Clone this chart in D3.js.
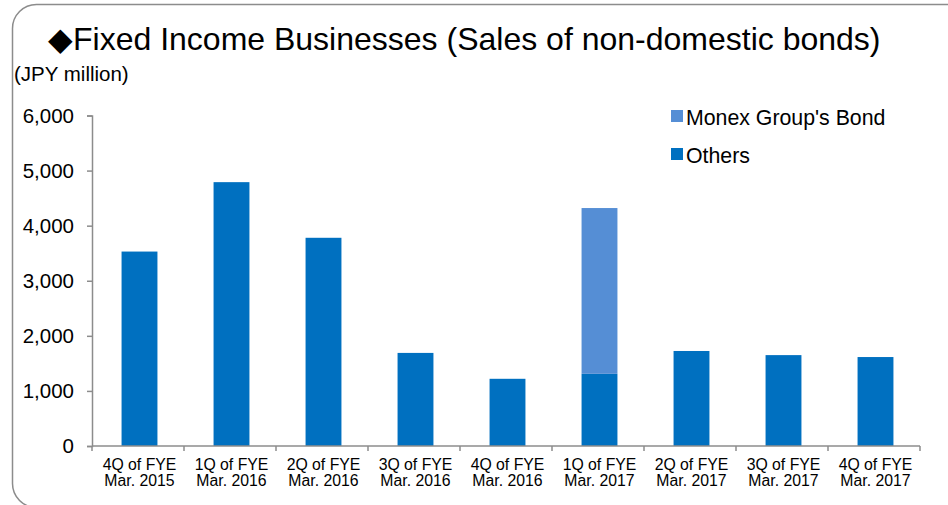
<!DOCTYPE html>
<html>
<head>
<meta charset="utf-8">
<script src="https://cdn.jsdelivr.net/npm/d3@7"></script>
<style>
  html, body { margin: 0; padding: 0; background: #fff; }
  svg { display: block; font-family: "Liberation Sans", Arial, sans-serif; }
</style>
</head>
<body>
<svg id="chart" width="948" height="505"></svg>
<script>
// Chart data
const quarters = ["4Q of FYE", "1Q of FYE", "2Q of FYE", "3Q of FYE", "4Q of FYE",
                  "1Q of FYE", "2Q of FYE", "3Q of FYE", "4Q of FYE"];
const years = ["Mar. 2015", "Mar. 2016", "Mar. 2016", "Mar. 2016", "Mar. 2016",
               "Mar. 2017", "Mar. 2017", "Mar. 2017", "Mar. 2017"];
const others = [3530, 4790, 3780, 1690, 1220, 1310, 1725, 1650, 1615];
const monexBond = [0, 0, 0, 0, 0, 3010, 0, 0, 0];
const yTicks = [0, 1000, 2000, 3000, 4000, 5000, 6000];

const seriesNames = ["Monex Group's Bond", "Others"];
const colors = { "Others": "#0070C0", "Monex Group's Bond": "#558ED5" };

const svg = d3.select("#chart");

// Rounded frame (runs off the right edge)
svg.append("rect")
  .attr("x", 12.5).attr("y", 4.5)
  .attr("width", 980).attr("height", 503)
  .attr("rx", 24).attr("ry", 24)
  .attr("fill", "none")
  .attr("stroke", "#8c8c8c")
  .attr("stroke-width", 1.5);

// Title
svg.append("text")
  .attr("x", 48).attr("y", 50)
  .attr("font-size", 32)
  .attr("fill", "#000")
  .text("\u25C6Fixed Income Businesses (Sales of non-domestic bonds)");

// Unit label
svg.append("text")
  .attr("x", 14).attr("y", 81)
  .attr("font-size", 20.5)
  .attr("fill", "#000")
  .text("(JPY million)");

// Plot area
const plotLeft = 92, plotRight = 920, plotTop = 115.5, plotBottom = 446;
const barShift = 1.5;

const idx = d3.range(quarters.length);
const x = d3.scaleBand()
  .domain(idx)
  .range([plotLeft, plotRight])
  .paddingInner(0.61)
  .paddingOuter(0.305);

const y = d3.scaleLinear()
  .domain([0, 6000])
  .range([plotBottom, plotTop]);

// Stack data
const rows = idx.map(i => ({ i: i, "Others": others[i], "Monex Group's Bond": monexBond[i] }));
const stack = d3.stack().keys(["Others", "Monex Group's Bond"]);
const layers = stack(rows);

svg.append("g")
  .selectAll("g")
  .data(layers)
  .join("g")
  .attr("fill", d => colors[d.key])
  .selectAll("rect")
  .data(d => d.filter(p => p[1] - p[0] > 0))
  .join("rect")
  .attr("x", d => x(d.data.i) + barShift)
  .attr("y", d => y(d[1]))
  .attr("width", x.bandwidth())
  .attr("height", d => y(d[0]) - y(d[1]));

// Y axis
const yAxis = svg.append("g")
  .attr("transform", `translate(${plotLeft},0)`)
  .call(d3.axisLeft(y).tickValues(yTicks).tickFormat(d3.format(",")).tickSize(5).tickPadding(13));
yAxis.select(".domain").attr("stroke", "#8c8c8c").attr("stroke-width", 1.5);
yAxis.selectAll(".tick line").attr("stroke", "#8c8c8c").attr("stroke-width", 1.5);
yAxis.selectAll(".tick text")
  .attr("font-size", 20.5)
  .attr("font-family", "Liberation Sans, Arial, sans-serif")
  .attr("fill", "#000");

// X axis line and boundary ticks
const xAxis = svg.append("g");
xAxis.append("line")
  .attr("x1", plotLeft).attr("x2", plotRight)
  .attr("y1", plotBottom).attr("y2", plotBottom)
  .attr("stroke", "#8c8c8c").attr("stroke-width", 1.5);

const boundaries = d3.range(quarters.length + 1).map(i =>
  i < quarters.length ? x(i) - x.step() * x.paddingInner() / 2 : plotRight);
xAxis.selectAll(".bt")
  .data(boundaries)
  .join("line")
  .attr("x1", d => d).attr("x2", d => d)
  .attr("y1", plotBottom).attr("y2", plotBottom + 5)
  .attr("stroke", "#8c8c8c").attr("stroke-width", 1.5);

// Category labels
const labels = xAxis.selectAll(".cat")
  .data(idx)
  .join("text")
  .attr("text-anchor", "middle")
  .attr("font-size", 15.8)
  .attr("fill", "#000");
labels.append("tspan")
  .attr("x", d => x(d) + x.bandwidth() / 2 + barShift)
  .attr("y", 470)
  .text(d => quarters[d]);
labels.append("tspan")
  .attr("x", d => x(d) + x.bandwidth() / 2 + barShift)
  .attr("y", 486)
  .text(d => years[d]);

// Legend
const legend = svg.append("g")
  .selectAll("g")
  .data(seriesNames)
  .join("g")
  .attr("transform", (d, i) => `translate(671,${110 + i * 38})`);
legend.append("rect")
  .attr("width", 12).attr("height", 12)
  .attr("fill", d => colors[d]);
legend.append("text")
  .attr("x", 15).attr("y", 14.5)
  .attr("font-size", 21.3)
  .attr("fill", "#000")
  .text(d => d);
</script>
</body>
</html>
